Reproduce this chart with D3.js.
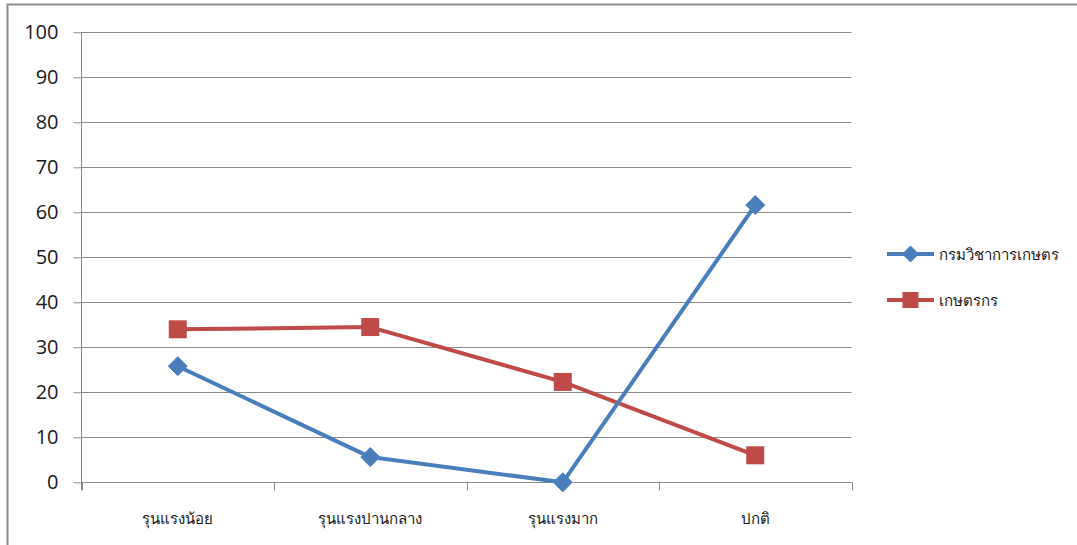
<!DOCTYPE html>
<html>
<head>
<meta charset="utf-8">
<script src="https://cdn.jsdelivr.net/npm/d3@7"></script>
<style>
  html, body { margin: 0; padding: 0; background: #fff; }
  svg { display: block; }
</style>
</head>
<body>
<svg id="chart" width="1077" height="545"></svg>
<script>
// Categories along the x axis
const categories = ["รุนแรงน้อย", "รุนแรงปานกลาง", "รุนแรงมาก", "ปกติ"];
// Series names
const seriesNames = ["กรมวิชาการเกษตร", "เกษตรกร"];
// Series values (percent)
const deptValues = [25.8, 5.6, 0, 61.6];
const farmerValues = [34, 34.5, 22.3, 6];
// Y-axis tick values
const yTicks = [0, 10, 20, 30, 40, 50, 60, 70, 80, 90, 100];

const svg = d3.select("#chart");
const W = 1077, H = 545;
const plot = { left: 81.5, right: 851.5, top: 32.3, bottom: 482.3 };

// Outer frame
svg.append("path")
  .attr("d", `M7.5,${H} V4.5 H${W}`)
  .attr("fill", "none").attr("stroke", "#8c8c8c").attr("stroke-width", 2);

const x = d3.scaleBand().domain(categories).range([plot.left, plot.right]).padding(0);
const y = d3.scaleLinear().domain([0, 100]).range([plot.bottom, plot.top]);

// Horizontal gridlines
svg.append("g")
  .selectAll("line").data(yTicks).join("line")
  .attr("x1", plot.left).attr("x2", plot.right)
  .attr("y1", d => Math.round(y(d)) + 0.5).attr("y2", d => Math.round(y(d)) + 0.5)
  .attr("stroke", "#8a8a8a").attr("stroke-width", 1);

// Y axis
const yAxis = svg.append("g")
  .attr("transform", `translate(${plot.left},0)`)
  .call(d3.axisLeft(y).tickValues(yTicks).tickSize(8).tickPadding(15).tickSizeOuter(0));
yAxis.select(".domain").attr("stroke", "#8a8a8a").attr("d", `M0,${plot.top}V${plot.bottom + 8}`);
yAxis.selectAll(".tick line").attr("stroke", "#8a8a8a");
yAxis.selectAll(".tick text")
  .attr("fill", "#1a1a1a")
  .style("font-family", "'Open Sans', 'Liberation Sans', sans-serif")
  .style("font-size", "20px");

// X axis: ticks at category boundaries
const boundaries = categories.map(c => x(c)).concat([x.range()[1]]);
svg.append("g").selectAll("line").data(boundaries).join("line")
  .attr("x1", d => Math.round(d) + 0.5).attr("x2", d => Math.round(d) + 0.5)
  .attr("y1", plot.bottom).attr("y2", plot.bottom + 8)
  .attr("stroke", "#8a8a8a");
svg.append("line")
  .attr("x1", plot.left).attr("x2", plot.right)
  .attr("y1", Math.round(plot.bottom) + 0.5).attr("y2", Math.round(plot.bottom) + 0.5)
  .attr("stroke", "#8a8a8a");

svg.append("g").selectAll("text").data(categories).join("text")
  .attr("x", d => x(d) + x.bandwidth() / 2)
  .attr("y", 524)
  .attr("text-anchor", "middle")
  .attr("fill", "#1a1a1a")
  .style("font-family", "Tahoma, 'DejaVu Sans', sans-serif")
  .style("font-size", "15px")
  .text(d => d);

const cx = d => x(d) + x.bandwidth() / 2;
const line = d3.line().x((v, i) => cx(categories[i])).y(v => y(v));

const blue = "#4a7ebb", red = "#be4b48";

function diamond(g, px, py, r, color) {
  g.append("path")
    .attr("d", `M${px},${py - r}L${px + r},${py}L${px},${py + r}L${px - r},${py}Z`)
    .attr("fill", color).attr("stroke", color).attr("stroke-width", 1).attr("stroke-linejoin", "round");
}
function square(g, px, py, s, color) {
  g.append("rect")
    .attr("x", px - s / 2).attr("y", py - s / 2).attr("width", s).attr("height", s)
    .attr("fill", color);
}

// Farmer series (red, squares)
svg.append("path").datum(farmerValues)
  .attr("d", line).attr("fill", "none").attr("stroke", red).attr("stroke-width", 4).attr("stroke-linejoin", "round");
const redMarks = svg.append("g");
farmerValues.forEach((v, i) => square(redMarks, cx(categories[i]), y(v), 18, red));

// Department series (blue, diamonds)
svg.append("path").datum(deptValues)
  .attr("d", line).attr("fill", "none").attr("stroke", blue).attr("stroke-width", 4).attr("stroke-linejoin", "round");
const blueMarks = svg.append("g");
deptValues.forEach((v, i) => diamond(blueMarks, cx(categories[i]), y(v), 9.5, blue));

// Legend
const legend = svg.append("g");
const legendItems = [
  { name: seriesNames[0], color: blue, shape: "diamond", y: 254 },
  { name: seriesNames[1], color: red, shape: "square", y: 300 }
];
legendItems.forEach(it => {
  legend.append("line")
    .attr("x1", 887).attr("x2", 934).attr("y1", it.y).attr("y2", it.y)
    .attr("stroke", it.color).attr("stroke-width", 4);
  if (it.shape === "diamond") diamond(legend, 910.5, it.y, 8, it.color);
  else square(legend, 910.5, it.y, 16, it.color);
  legend.append("text")
    .attr("x", 939).attr("y", it.y + 6)
    .attr("fill", "#1a1a1a")
    .style("font-family", "Tahoma, 'DejaVu Sans', sans-serif")
    .style("font-size", "15px")
    .text(it.name);
});
</script>
</body>
</html>
